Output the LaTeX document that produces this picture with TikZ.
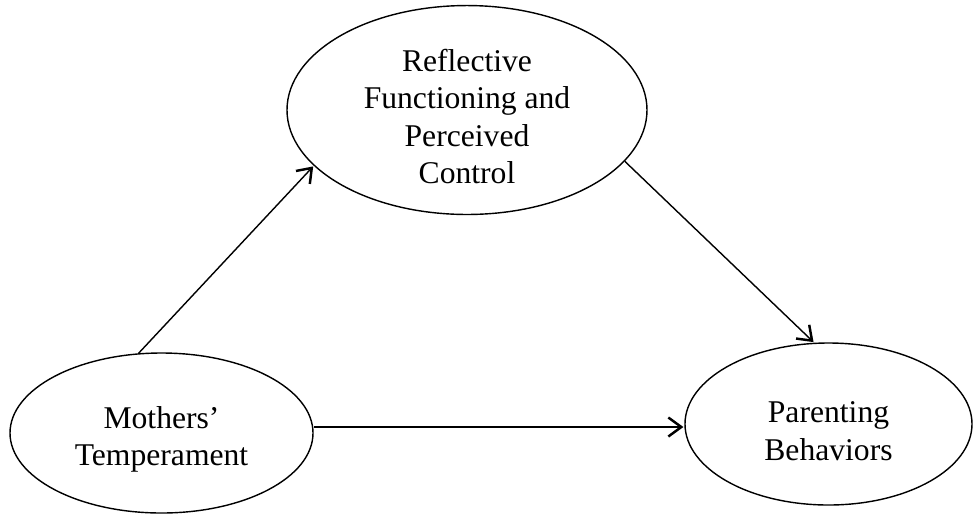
\documentclass[tikz,border=0pt]{standalone}
\usepackage{fontspec}
\setmainfont{Liberation Serif}
\usetikzlibrary{shapes.geometric,arrows.meta}
\newcommand{\lowstrut}{\rule{0pt}{20pt}}
\begin{document}
\begin{tikzpicture}[line width=0.8pt,draw=black]
    \tikzstyle{construct}=[ellipse,draw,align=center,inner sep=0pt,font=\fontsize{18}{21.3}\selectfont]
    \tikzstyle{path arrow}=[-{Straight Barb[length=2.6mm,width=3.8mm,line width=1.4pt]},shorten >=0.5pt]
    \useasboundingbox (0,0) rectangle (19.54,-10.32);
    % Draw the three constructs
      \node[construct, minimum width=7.2cm, minimum height=4.1cm] (RF) at (9.34,-2.2) {\lowstrut Reflective\\Functioning and\\Perceived\\Control};
      \node[construct, minimum width=6.06cm, minimum height=3.2cm] (MT) at (3.23,-8.66) {\lowstrut Mothers'\\Temperament};
      \node[construct, minimum width=5.74cm, minimum height=3.24cm] (PB) at (16.57,-8.48) {\lowstrut Parenting\\Behaviors};
    % Draw the paths
      \path (MT.106) edge [path arrow] (RF.200);
      \path (RF.-18) edge [path arrow] (PB.100);
      \path ([yshift=0.12cm]MT.east) edge [path arrow] ([yshift=0.12cm]MT.east -| PB.west);
\end{tikzpicture}
\end{document}
